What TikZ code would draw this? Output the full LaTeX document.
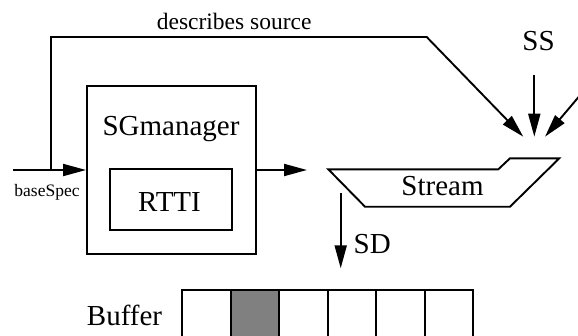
\documentclass[tikz,border=0pt]{standalone}
\usepackage{fontspec}
\setmainfont{Liberation Serif}
\usetikzlibrary{arrows.meta}
\newcommand{\fsz}[1]{\fontsize{#1}{#1}\selectfont}
\begin{document}
\begin{tikzpicture}[x=1pt,y=-1pt,
  line width=1.9pt,
  flow/.style={-{Triangle[length=23pt,width=12pt]}},
  boxnode/.style={draw,inner sep=0pt,minimum width=#1},
  lbl/.style={inner sep=0pt,anchor=base},
  big/.style={font=\fsz{29}},
]
\useasboundingbox (0,0) rectangle (578,335);
\clip (0,0) rectangle (578,335);

% manager box with the RTTI box inside
\node[boxnode=169pt,minimum height=168pt] (sgm) at (171.5,170) {};
\node[lbl,big] (sgmlabel) at (171,135) {SGmanager};
\node[boxnode=121.7pt,minimum height=61pt] (rtti) at (170.9,199.5) {};
\node[lbl,big] (rttilabel) at (169.5,211.7) {RTTI};

% input from the left
\coordinate (bsin) at (13,170);
\coordinate (branch) at (51,170);
\draw[flow] (bsin) -- (sgm.west);
\node[lbl,font=\fsz{17.5}] (bslabel) at (47,196.7) {baseSpec};

% stream outline
\coordinate (st1) at (328.3,169.3);
\coordinate (st2) at (498.3,169.3);
\coordinate (st3) at (510,158.3);
\coordinate (st4) at (559.3,158.3);
\coordinate (st5) at (510,206.7);
\coordinate (st6) at (365,206.7);
\draw (st1) -- (st2) -- (st3) -- (st4) -- (st5) -- (st6) -- cycle;
\node[lbl,big] (stream) at (442.5,195) {Stream};

% manager output
\coordinate (outend) at (307,170);
\draw[flow] (sgm.east) -- (outend);

% three inputs converging on the stream
\coordinate (knee) at (426.7,37);
\coordinate (tipA) at (523.3,136.7);
\coordinate (tipB) at (534.3,136.7);
\coordinate (tipC) at (545,136.7);
\coordinate (ssfrom) at (534.3,75);
\coordinate (farright) at (594.5,78.2);
\draw[flow] (branch) |- (knee) -- (tipA);
\node[lbl,font=\fsz{23.5}] (desc) at (234.2,29.3) {describes source};
\draw[flow] (ssfrom) -- (tipB);
\node[lbl,big] (ss) at (538.5,50) {SS};
\draw[flow] (farright) -- (tipC);

% stream to buffer
\coordinate (sdfrom) at (340.7,193.3);
\coordinate (sdto) at (340.7,268.3);
\draw[flow] (sdfrom) -- (sdto);
\node[lbl,big,anchor=base west] (sd) at (352.7,253.3) {SD};

% buffer cells
\node[lbl,big] (buf) at (124.5,325.7) {Buffer};
\foreach \i in {0,...,5} {
  \pgfmathsetmacro{\xa}{182+48.55*\i}
  \pgfmathsetmacro{\xb}{182+48.55*(\i+1)}
  \ifnum\i=1
    \draw[fill=black!50] (\xa,290) rectangle (\xb,350);
  \else
    \draw (\xa,290) rectangle (\xb,350);
  \fi
}
\end{tikzpicture}
\end{document}
